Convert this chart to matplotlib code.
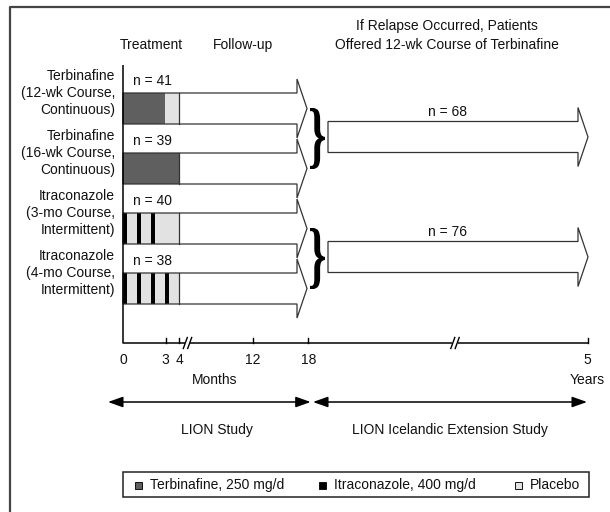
import numpy as np
import matplotlib
matplotlib.use('Agg')
from matplotlib import pyplot as plt
from matplotlib.patches import Polygon, Rectangle, PathPatch, FancyArrowPatch
from matplotlib.textpath import TextPath
from matplotlib.font_manager import FontProperties
from matplotlib.transforms import Affine2D

plt.rcParams['font.family'] = ['Liberation Sans', 'DejaVu Sans']
FS = 10

# ---- data ----
groups = ['Terbinafine\n(12-wk Course,\nContinuous)',
          'Terbinafine\n(16-wk Course,\nContinuous)',
          'Itraconazole\n(3-mo Course,\nIntermittent)',
          'Itraconazole\n(4-mo Course,\nIntermittent)']
n_values = [41, 39, 40, 38]
terb_weeks = [12, 16, 0, 0]          # continuous terbinafine
itra_pulses = [0, 0, 3, 4]           # 1-wk pulses, one per month
treat_months = 4                     # treatment phase incl. placebo
pulse_weeks = 1
ext_n = [68, 76]                     # extension study arrows
tick_labels = ['0', '3', '4', '12', '18', '5']
legend_labels = ['Terbinafine, 250 mg/d', 'Itraconazole, 400 mg/d', 'Placebo']

# ---- colours / layout (pixels, y downwards) ----
c_terb = '#5f5f5f'
c_itra = '#000000'
c_plac = '#e2e2e2'
c_line = '#333333'
txt = '#111111'

fig = plt.figure(figsize=(6.1, 5.12), dpi=100)
ax = fig.add_axes([0, 0, 1, 1])
ax.set_xlim(0, 610)
ax.set_ylim(512, 0)
ax.axis('off')

# month -> x position (axis is broken, so piecewise)
key_months = [0, 4, 12, 18, 60]
key_x = [123, 179.3, 252.7, 308.3, 587.5]
def mx(m):
    return np.interp(m, key_months, key_x)

tick_x = [123, 165.7, 179.3, 252.7, 308.3, 587.5]
axis_y = 343
row_c = [108.5 + 60 * i for i in range(4)]
body_h = 31
head_h = 59
head_len = 10


def arrow_pts(x0, x1, yc):
    b, h = body_h / 2, head_h / 2
    return [(x0, yc - b), (x1 - head_len, yc - b), (x1 - head_len, yc - h),
            (x1, yc), (x1 - head_len, yc + h), (x1 - head_len, yc + b),
            (x0, yc + b)]


# outer frame (only left + top visible)
ax.plot([10, 10, 610], [512, 7, 7], color='#444444', lw=1.6,
        solid_capstyle='butt')

# headings
ax.text(151.5, 45, 'Treatment', ha='center', va='center', fontsize=FS, color=txt)
ax.text(243, 45, 'Follow-up', ha='center', va='center', fontsize=FS, color=txt)
ax.text(447, 26, 'If Relapse Occurred, Patients', ha='center', va='center',
        fontsize=FS, color=txt)
ax.text(447, 45, 'Offered 12-wk Course of Terbinafine', ha='center',
        va='center', fontsize=FS, color=txt)

# study arms
for i in range(4):
    yc = row_c[i]
    top = yc - body_h / 2
    ax.add_patch(Polygon(arrow_pts(mx(0), 307, yc), closed=True,
                         facecolor='white', edgecolor='none', zorder=1))
    t_end = terb_weeks[i] / 4
    if t_end > 0:
        ax.add_patch(Rectangle((mx(0), top), mx(t_end) - mx(0), body_h,
                               facecolor=c_terb, edgecolor='none', zorder=2))
    if t_end < treat_months:
        ax.add_patch(Rectangle((mx(t_end), top), mx(treat_months) - mx(t_end),
                               body_h, facecolor=c_plac, edgecolor='none',
                               zorder=2))
    for k in range(itra_pulses[i]):
        ax.add_patch(Rectangle((mx(k), top), mx(k + pulse_weeks / 4) - mx(k),
                               body_h, facecolor=c_itra, edgecolor='none',
                               zorder=3))
    ax.plot([mx(treat_months)] * 2, [top, top + body_h], color=c_line, lw=0.9,
            zorder=4)
    ax.add_patch(Polygon(arrow_pts(mx(0), 307, yc), closed=True,
                         facecolor='none', edgecolor=c_line, lw=0.9, zorder=4))
    ax.text(115, top, groups[i], ha='right', va='center', ma='right',
            fontsize=FS, linespacing=1.3, color=txt)
    ax.text(133, top - 12, 'n = %d' % n_values[i], ha='left', va='center',
            fontsize=FS, color=txt)

# braces + extension arrows
brace_fp = FontProperties(family='Liberation Serif', weight='bold')
for j in range(2):
    yc = (row_c[2 * j] + row_c[2 * j + 1]) / 2
    tp = TextPath((0, 0), '}', size=1, prop=brace_fp)
    ext = tp.get_extents()
    w, h = 15, 61
    tr = (Affine2D().translate(-ext.x0, -ext.y0)
          .scale(w / ext.width, -h / ext.height)
          .translate(310, yc + h / 2))
    ax.add_patch(PathPatch(tr.transform_path(tp), facecolor='black',
                           edgecolor='none', zorder=5))
    ax.add_patch(Polygon(arrow_pts(328, 588, yc - 1.5), closed=True,
                         facecolor='white', edgecolor=c_line, lw=0.9, zorder=4))
    ax.text(447, yc - 26, 'n = %d' % ext_n[j], ha='center', va='center',
            fontsize=FS, color=txt)

# axes lines
ax.plot([123, 123, 587.5], [65, axis_y, axis_y], color='black', lw=1.1,
        solid_capstyle='butt', zorder=5)
for x, lab in zip(tick_x, tick_labels):
    if x > 123:
        ax.plot([x, x], [axis_y, axis_y - 5], color='black', lw=1, zorder=5)
    ax.text(x, 360, lab, ha='center', va='center', fontsize=FS, color=txt)

for xb in [187.5, 455]:
    ax.add_patch(Rectangle((xb - 2.8, axis_y - 2), 5.6, 4, facecolor='white',
                           edgecolor='none', zorder=6))
    for dx in (-2.2, 2.2):
        ax.plot([xb + dx - 2, xb + dx + 2], [axis_y + 5.5, axis_y - 5.5],
                color='black', lw=1, zorder=7)

ax.text(215, 380, 'Months', ha='center', va='center', fontsize=FS, color=txt)
ax.text(587, 380, 'Years', ha='center', va='center', fontsize=FS, color=txt)

# study spans
for x0, x1 in [(108, 310.7), (313, 587)]:
    ax.add_patch(FancyArrowPatch((x0, 402), (x1, 402),
                                 arrowstyle='<|-|>,head_length=0.9,head_width=0.32',
                                 mutation_scale=10, color='black', lw=1.1,
                                 shrinkA=0, shrinkB=0))
ax.text(217, 430, 'LION Study', ha='center', va='center', fontsize=FS, color=txt)
ax.text(450, 430, 'LION Icelandic Extension Study', ha='center', va='center',
        fontsize=FS, color=txt)

# legend
ax.add_patch(Rectangle((122.7, 471.7), 466.3, 25.6, facecolor='white',
                       edgecolor='#222222', lw=1.1))
for sx, col, lab in zip([134.5, 318.5, 514.5], [c_terb, c_itra, c_plac],
                        legend_labels):
    ax.add_patch(Rectangle((sx, 481.5), 7.5, 7.5, facecolor=col,
                           edgecolor='#111111', lw=0.7))
    ax.text(sx + 15, 485, lab, ha='left', va='center', fontsize=FS, color=txt)

fig.savefig('out.png', dpi=100)
